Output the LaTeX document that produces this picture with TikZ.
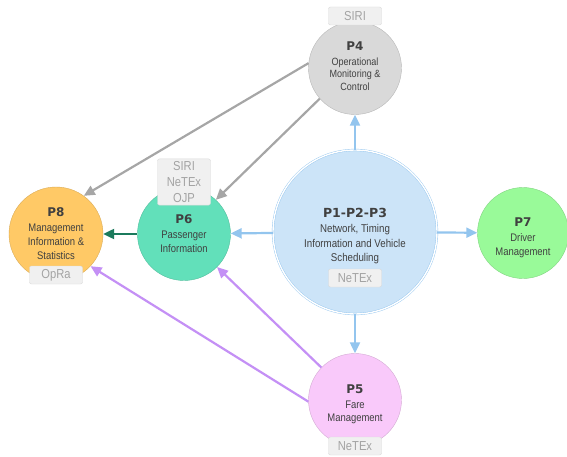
\documentclass[tikz,border=0pt]{standalone}
\usepackage{fontspec}
\setmainfont{Liberation Sans}
\newfontfamily\bodyfont[FakeStretch=0.86]{Liberation Sans}
\newfontfamily\titlefont{DejaVu Sans}
\usetikzlibrary{arrows.meta}
\definecolor{txtgray}{HTML}{404040}
\definecolor{taggray}{HTML}{A3A3A3}
\definecolor{tagfill}{HTML}{F0F0F0}
\definecolor{tagline}{HTML}{D9D9D9}
\definecolor{blueFill}{HTML}{CCE4F8}
\definecolor{blueLine}{HTML}{93C5EE}
\definecolor{grayFill}{HTML}{D9D9D9}
\definecolor{grayLine}{HTML}{A6A6A6}
\definecolor{pinkFill}{HTML}{F9C9FA}
\definecolor{purpleLine}{HTML}{C490F5}
\definecolor{tealFill}{HTML}{62E0BA}
\definecolor{tealLine}{HTML}{1B7A5C}
\definecolor{orangeFill}{HTML}{FFC966}
\definecolor{greenFill}{HTML}{99FA99}
\newcommand{\ptitle}[1]{{\titlefont\fontsize{12}{15}\selectfont\bfseries #1}}
\newcommand{\bigtitle}[1]{{\titlefont\fontsize{12.5}{15}\selectfont\bfseries #1}}
% empty line to push the text of a circle down
\newcommand{\vpad}[1]{\mbox{}\\[#1]}
\tikzset{
	proc/.style={circle,minimum size=#1,inner sep=0pt,align=center,text=txtgray,font=\bodyfont\fontsize{11}{14}\selectfont},
	tagbox/.style={rounded corners=2pt,fill=tagfill,draw=tagline,text=taggray,font=\bodyfont\fontsize{13}{16}\selectfont,inner xsep=1pt,inner ysep=2.5pt,minimum width=53pt,minimum height=18pt,align=center},
	flow/.style={line width=2.2pt,-{Triangle[length=11pt,width=10pt]}}
}
\begin{document}
\begin{tikzpicture}[x=1pt,y=-1pt]
	\useasboundingbox (0,0) rectangle (567,457);
	%% the circles
	\node[proc=164pt,fill=blueFill,draw=blueLine,double=white,double distance=1.4pt,font=\bodyfont\fontsize{11.3}{14.5}\selectfont] (p123) at (355,232) {\vpad{3pt}\bigtitle{P1-P2-P3}\\[1pt]Network, Timing\\Information and Vehicle\\Scheduling};
	\node[proc=93pt,fill=grayFill,draw=grayFill!85!black,font=\bodyfont\fontsize{10.5}{12.5}\selectfont] (p4) at (355,68) {\ptitle{P4}\\[2pt]Operational\\Monitoring \&\\Control\\[-8.5pt]\mbox{}};
	\node[proc=93pt,fill=pinkFill,draw=pinkFill!85!black,font=\bodyfont\fontsize{11}{13}\selectfont] (p5) at (355,400) {\vpad{4pt}\ptitle{P5}\\[2pt]Fare\\Management};
	\node[proc=93pt,fill=tealFill,draw=tealFill!85!black] (p6) at (184,234) {\ptitle{P6}\\[1pt]Passenger\\Information};
	\node[proc=91pt,fill=greenFill,draw=greenFill!85!black] (p7) at (523,233) {\vpad{5pt}\ptitle{P7}\\[1pt]Driver\\Management};
	\node[proc=94pt,fill=orangeFill,draw=orangeFill!85!black] (p8) at (56,234) {\ptitle{P8}\\[1pt]Management\\Information \&\\Statistics};
	%% the standards
	\node[tagbox] (siri4) at (355,16) {SIRI};
	\node[tagbox] (netex123) at (355,278) {NeTEx};
	\node[tagbox] (netex5) at (355,446) {NeTEx};
	\node[tagbox] (std6) at (184,182) {SIRI\\NeTEx\\OJP};
	\node[tagbox] (opra8) at (56,275) {OpRa};
	%% the flows
	\draw[flow,blueLine] (p123) -- (p4);
	\draw[flow,blueLine] (p123) -- (p5);
	\draw[flow,blueLine] (p123) -- (p6);
	\draw[flow,blueLine] (p123) -- (p7);
	\draw[flow,tealLine] (p6) -- (p8);
	\draw[flow,grayLine] (p4.174) -- (p8.54);
	\draw[flow,grayLine] (p4.221) -- (p6.47);
	\draw[flow,purpleLine] (p5.182) -- (p8.317);
	\draw[flow,purpleLine] (p5.136) -- (p6.315);
\end{tikzpicture}
\end{document}
